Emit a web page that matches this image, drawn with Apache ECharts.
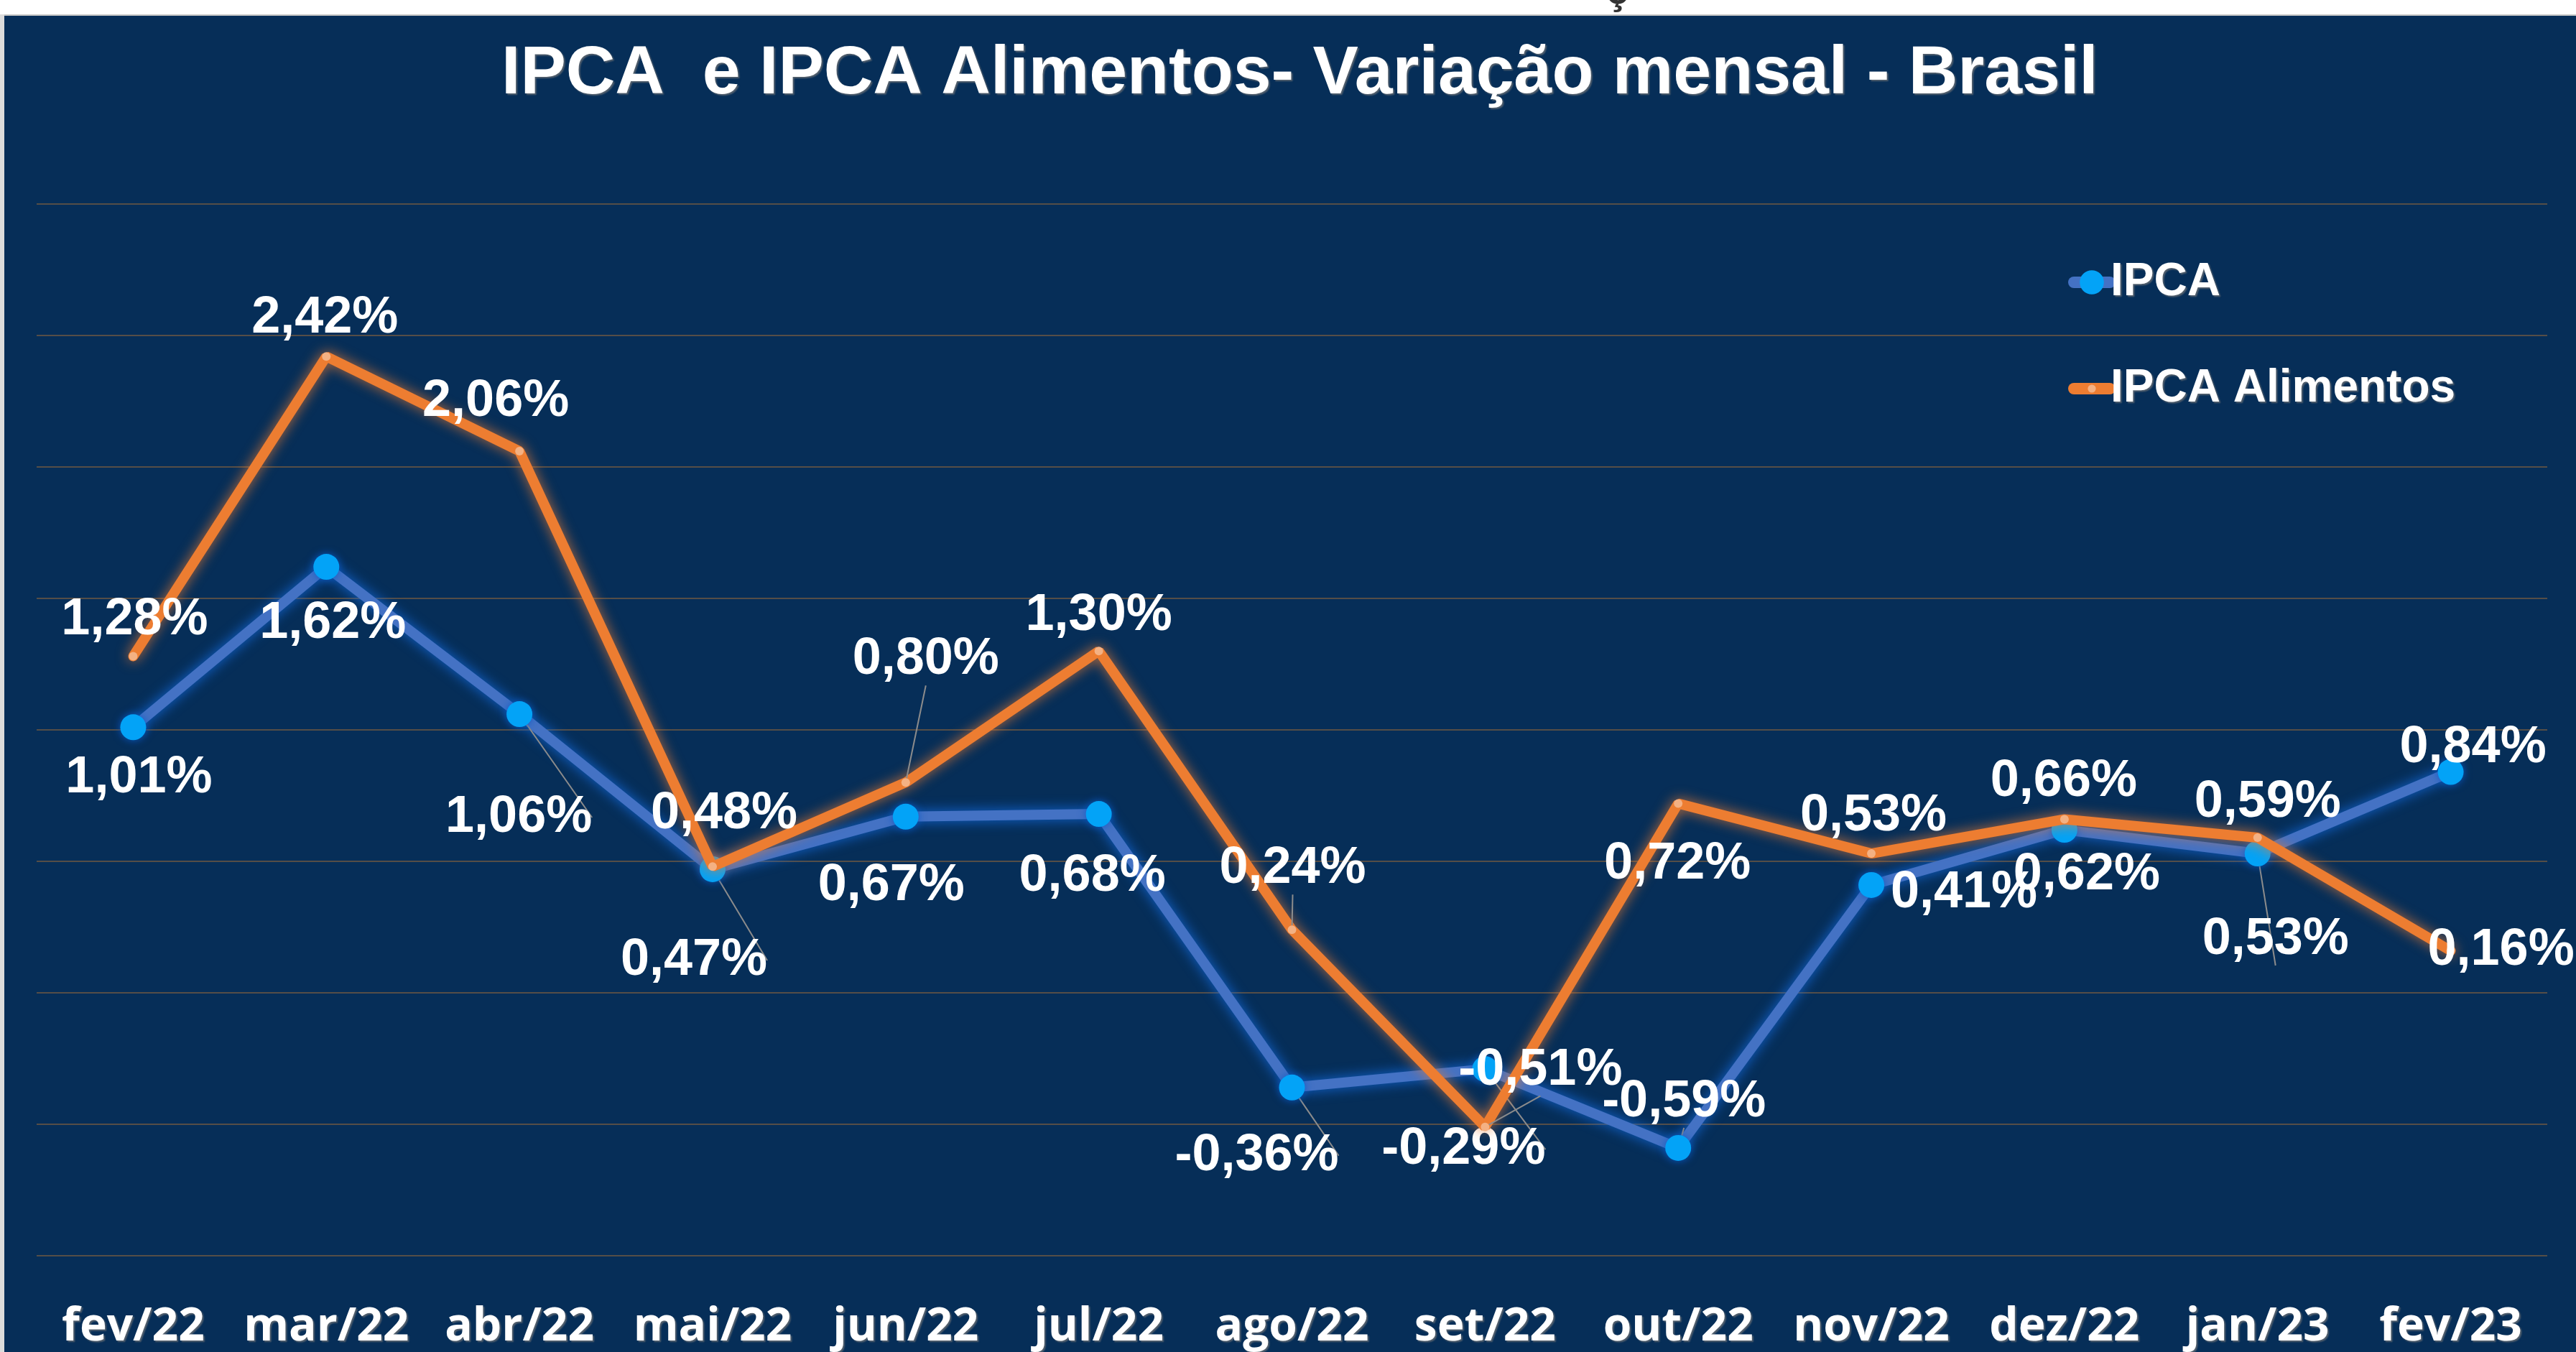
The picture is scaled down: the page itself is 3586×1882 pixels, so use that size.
<!DOCTYPE html>
<html>
<head>
<meta charset="utf-8">
<title>IPCA e IPCA Alimentos - Variação mensal - Brasil</title>
<script src="https://cdn.jsdelivr.net/npm/echarts@6/dist/echarts.min.js"></script>
<style>
  html, body { margin: 0; padding: 0; background: #fff; overflow: hidden; }
  #frame { position: absolute; left: 0; top: 20px; width: 6px; bottom: 0; background: #dcdcdc; }
  #panel { position: absolute; left: 6px; top: 20px; right: 0; bottom: 0; background: #062e58; border-top: 2px solid #c4c4c4; }
  #chart { position: absolute; left: 0; top: 0; width: 3586px; height: 1882px; }
</style>
</head>
<body>
<div id="frame"></div>
<div id="panel"></div>
<div id="chart"></div>
<script>
// dados (variação mensal, %)
var meses = ['fev/22', 'mar/22', 'abr/22', 'mai/22', 'jun/22', 'jul/22', 'ago/22',
             'set/22', 'out/22', 'nov/22', 'dez/22', 'jan/23', 'fev/23'];
var ipca = [1.01, 1.62, 1.06, 0.47, 0.67, 0.68, -0.36, -0.29, -0.59, 0.41, 0.62, 0.53, 0.84];
var ipcaAlimentos = [1.28, 2.42, 2.06, 0.48, 0.80, 1.30, 0.24, -0.51, 0.72, 0.53, 0.66, 0.59, 0.16];

// deslocamento dos rótulos (px, a partir do ponto) e linhas de chamada
var offIpca = [[8, 71], [9, 79], [-1, 144], [-26, 127], [-20, 96], [-9, 87], [-49, 95],
               [-30, 112], [8, -64], [129, 11], [31, 63], [25, 120], [31, -33]];
var leadIpca = [false, false, true, true, false, false, true, true, true, false, false, true, false];
var offAlim = [[2, -50], [-2, -53], [-33, -69], [16, -73], [28, -171], [0, -49], [1, -85],
               [77, -79], [-1, 85], [3, -52], [-1, -52], [14, -49], [70, 0]];
var leadAlim = [false, false, false, false, true, false, true, true, false, false, false, false, false];

var fonte = '"Liberation Sans", Arial, sans-serif';
var sombraTexto = { textShadowColor: 'rgba(120,120,120,0.7)', textShadowOffsetX: 2, textShadowOffsetY: 2, textShadowBlur: 2 };

function pct(v) {
  return v.toFixed(2).replace('.', ',') + '%';
}

function montar(valores, offs, leads) {
  return valores.map(function (v, i) {
    return {
      value: v,
      label: { offset: offs[i] },
      labelLine: { show: leads[i] }
    };
  });
}

var rotulo = {
  show: true,
  position: 'inside',
  color: '#fff',
  fontSize: 72,
  fontWeight: 'bold',
  fontFamily: fonte,
  textBorderWidth: 0,
  formatter: function (p) { return pct(p.value); }
};

var chart = echarts.init(document.getElementById('chart'), null, { renderer: 'canvas' });
chart.setOption({
  animation: false,
  backgroundColor: 'transparent',
  title: {
    text: 'IPCA  e IPCA Alimentos- Variação mensal - Brasil',
    left: 698,
    top: 56,
    padding: 0,
    textStyle: Object.assign({
      color: '#fff',
      fontSize: 95,
      fontWeight: 'bold',
      fontFamily: fonte
    }, sombraTexto)
  },
  graphic: [{
    type: 'text',
    left: 2236,
    top: -38,
    style: { text: 'ç', fill: '#333', font: 'bold 56px "Liberation Sans", Arial' }
  }],
  legend: [{
    data: ['IPCA'],
    left: 2879,
    top: 361,
    padding: 0,
    itemWidth: 50,
    itemHeight: 42,
    textStyle: Object.assign({ color: '#fff', fontSize: 64, fontWeight: 'bold', fontFamily: fonte, padding: [0, 0, 0, -4] }, sombraTexto),
    lineStyle: { width: 16, cap: 'round' }
  }, {
    data: ['IPCA Alimentos'],
    left: 2879,
    top: 509,
    padding: 0,
    itemWidth: 50,
    itemHeight: 14,
    textStyle: Object.assign({ color: '#fff', fontSize: 64, fontWeight: 'bold', fontFamily: fonte, padding: [0, 0, 0, -4] }, sombraTexto),
    lineStyle: { width: 16, cap: 'round' }
  }],
  grid: { left: 51, right: 40, top: 284, bottom: 134, containLabel: false },
  xAxis: {
    type: 'category',
    data: meses,
    boundaryGap: true,
    axisLine: { show: false },
    axisTick: { show: false },
    axisLabel: Object.assign({
      color: '#fff',
      fontSize: 64,
      fontWeight: 'bold',
      fontFamily: '"Open Sans", sans-serif',
      margin: 68,
      interval: 0
    }, sombraTexto)
  },
  yAxis: {
    type: 'value',
    min: -1,
    max: 3,
    interval: 0.5,
    axisLabel: { show: false },
    axisLine: { show: false },
    axisTick: { show: false },
    splitLine: { lineStyle: { color: '#554e47', width: 2 } }
  },
  series: [{
    name: 'IPCA',
    type: 'line',
    data: montar(ipca, offIpca, leadIpca),
    symbol: 'circle',
    symbolSize: 36,
    lineStyle: { color: '#4472c4', width: 14, cap: 'round', shadowBlur: 18, shadowColor: 'rgba(20,110,230,0.9)' },
    itemStyle: { color: '#03a3f7', shadowBlur: 12, shadowColor: 'rgba(10,90,200,0.9)' },
    label: rotulo,
    labelLine: { show: false, lineStyle: { color: '#8c8c8c', width: 2 } },
    emphasis: { disabled: true },
    z: 2
  }, {
    name: 'IPCA Alimentos',
    type: 'line',
    data: montar(ipcaAlimentos, offAlim, leadAlim),
    symbol: 'circle',
    symbolSize: 12,
    lineStyle: { color: '#ed7d31', width: 14, cap: 'round', shadowBlur: 18, shadowColor: 'rgba(237,125,49,0.8)' },
    itemStyle: { color: '#f4b183' },
    label: rotulo,
    labelLine: { show: false, lineStyle: { color: '#8c8c8c', width: 2 } },
    emphasis: { disabled: true },
    z: 3
  }]
});
</script>
</body>
</html>
